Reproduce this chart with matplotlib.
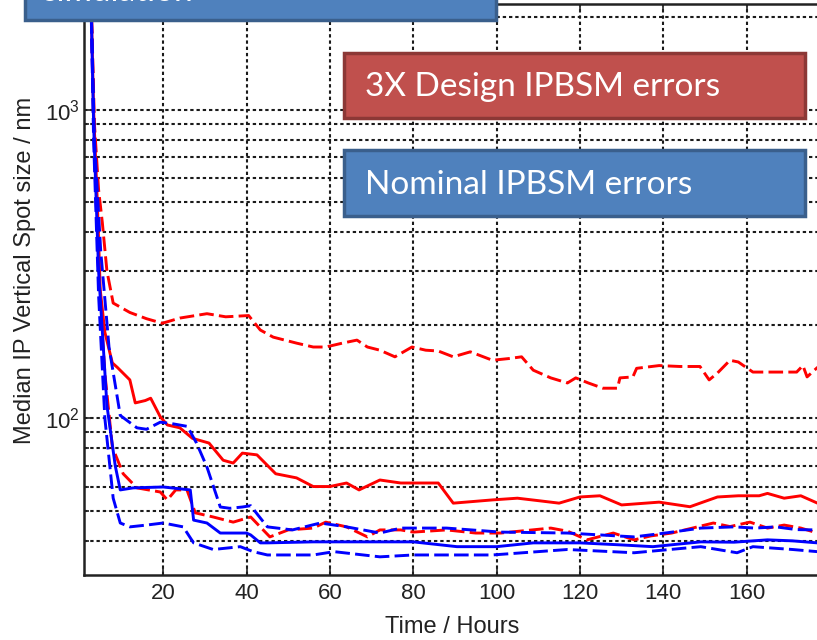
import matplotlib
matplotlib.use("Agg")
import matplotlib.pyplot as plt
from matplotlib.patches import Rectangle
from matplotlib.ticker import LogLocator, NullFormatter

plt.rcParams['font.family'] = ['Liberation Sans', 'DejaVu Sans']

# median spot size vs. time, 3x design IPBSM errors (red) and nominal errors (blue)
red_hi_t = [2.5, 3.5, 4.5, 5.4, 6.5, 8, 12, 16, 19.8, 24, 30.5, 35, 40.5, 43.3, 46.4, 52, 56, 59, 63,
            66.5, 69, 72, 75.6, 79.7, 83, 86, 89.6, 93.7, 99, 103, 106, 108.8, 113, 117, 119, 122,
            125.5, 129, 129.6, 132.7, 133.6, 139, 144, 148.8, 151, 153, 156, 158, 161.5, 166, 172,
            173.5, 174.5, 177, 180]
red_hi_v = [3000, 900, 550, 430, 300, 236, 220, 210, 203, 211, 218, 213, 215, 193, 183, 175, 170, 170, 175,
            179, 170, 166, 158, 170, 166, 165, 158, 164, 154, 156, 158, 143, 135, 130, 135, 130,
            125, 125, 135, 136, 145, 148, 147, 147, 133, 140, 154, 152, 141, 141, 141,
            148, 136, 146, 146]

red_med_t = [2.5, 3.3, 4.2, 4.9, 6, 7.8, 9, 12, 13.3, 15.7, 17, 19.3, 21, 24, 27, 31, 34.4, 36.8, 39,
             42.5, 47, 52, 56, 60, 64, 67, 72, 77, 86, 89.6, 99, 105, 110, 115, 120, 124.8, 130, 139,
             146.4, 153, 158, 163, 165, 169, 173, 177, 180]
red_med_v = [3000, 1000, 500, 260, 190, 151, 146, 133, 112, 114, 116, 101, 95, 93, 86, 83, 73, 71.5, 77,
             76, 66, 64, 60, 60, 61.6, 58.5, 63, 61.6, 61.6, 53, 54.3, 55, 54, 53, 55.5, 56, 52.3, 53.4,
             51.6, 55.5, 56, 56, 57, 55, 56, 53, 53]

red_lo_t = [2.5, 3.3, 4.5, 6, 7.8, 10.4, 13.7, 19.3, 21, 23, 25.7, 27.7, 32, 36.8, 41, 45.6, 50, 56, 59,
            64, 69, 72, 77, 80, 88, 95, 101, 113, 117, 121.7, 128, 133, 137, 142, 147, 152, 156, 160.8,
            165, 169, 173, 177, 180]
red_lo_v = [3000, 900, 300, 140, 80.6, 66, 59.4, 57.6, 54.3, 58.5, 58.5, 49.3, 47.8, 46, 47.8, 41.2, 43.4,
            44, 46, 44.4, 41.2, 43.4, 43.4, 42.7, 43.4, 42.4, 42.4, 44, 43, 40.3, 42.4, 40.3, 41.5, 42.4,
            44, 45.7, 44.5, 46, 44, 45, 44, 42.4, 42.4]

blue_hi_t = [2.5, 3.5, 5, 7, 9.7, 13.7, 16, 19.3, 22, 25.8, 28, 30.5, 33.7, 36, 39, 41, 43, 45, 51, 57.7,
             64, 72, 77, 88, 101, 117, 133, 141, 149, 157, 162, 167, 172, 177, 180]
blue_hi_v = [3000, 800, 350, 170, 102, 93, 92, 97, 96, 94, 83, 69.4, 51.5, 51, 51.5, 52, 48, 44.4, 43.4,
             45.7, 44.4, 42.4, 44, 44, 42.7, 42.4, 41.2, 42.5, 44, 44.4, 44, 44.4, 43.5, 43.4, 43.4]

blue_med_t = [2.5, 3.3, 4.5, 6.5, 8.5, 9.7, 12.8, 20, 26.5, 27.3, 30.5, 33.7, 40, 41, 43.3, 45, 56, 80,
              90.5, 100, 108.8, 120, 130, 137.5, 149, 157, 165, 171, 177, 180]
blue_med_v = [3000, 900, 300, 110, 70, 58.5, 59.4, 59.8, 58.5, 46.7, 45.7, 42.4, 42.4, 41.8, 39.4, 39.4,
              39.7, 39.7, 38.3, 38.3, 39.4, 39.4, 38.8, 38.3, 39.7, 39.6, 40.3, 40, 39.4, 39.4]

blue_lo_t = [2.5, 3.3, 4.5, 6, 8, 9.7, 12, 16, 20, 24.8, 27.3, 32, 38.5, 41.6, 45, 56, 61, 72, 80, 99,
             117, 133, 149, 157.7, 161.5, 171, 177, 180]
blue_lo_v = [3000, 800, 250, 100, 55, 45.7, 44.4, 45, 45.7, 44.4, 39.4, 37.5, 38.3, 36.9, 36, 36, 36.9,
             35.5, 36, 36, 37.5, 36.6, 38.3, 36.6, 38.3, 37.5, 36.9, 36.9]

xticks = [20, 40, 60, 80, 100, 120, 140, 160, 180]
xticklabels = ['20', '40', '60', '80', '100', '120', '140', '160', '']

W, H = 817, 640
fig = plt.figure(figsize=(W / 100, H / 100), dpi=100)


def px(x0, y0, x1, y1):
    # pixel box (top-left origin) -> figure fraction rect
    return [x0 / W, 1 - y1 / H, (x1 - x0) / W, (y1 - y0) / H]


ax = fig.add_axes(px(84, 4, 830, 575))
ax.set_yscale('log')

lw = 2.1
dash = (0, (5, 1.8))
ax.plot(red_hi_t, red_hi_v, color='#ff0000', lw=lw, linestyle=dash)
ax.plot(red_med_t, red_med_v, color='#ff0000', lw=lw)
ax.plot(red_lo_t, red_lo_v, color='#ff0000', lw=lw, linestyle=dash)
ax.plot(blue_hi_t, blue_hi_v, color='#0000ff', lw=lw, linestyle=dash)
ax.plot(blue_med_t, blue_med_v, color='#0000ff', lw=lw)
ax.plot(blue_lo_t, blue_lo_v, color='#0000ff', lw=lw, linestyle=dash)

ax.set_xlim(1, 180)
ax.set_ylim(31, 2200)
ax.set_xticks(xticks)
ax.set_xticklabels(xticklabels)
ax.yaxis.set_major_locator(LogLocator(base=10))
ax.yaxis.set_minor_locator(LogLocator(base=10, subs=range(2, 10)))
ax.yaxis.set_minor_formatter(NullFormatter())

grid_kw = dict(color='#1a1a1a', linestyle=(0, (1.6, 1.4)), linewidth=1.5)
ax.grid(True, which='major', axis='both', **grid_kw)
ax.grid(True, which='minor', axis='y', **grid_kw)

ax.tick_params(which='both', direction='in', top=True, right=True, width=1.2, labelsize=16,
               colors='#222222')
ax.tick_params(which='major', length=6)
ax.tick_params(which='minor', length=3.5)
ax.tick_params(axis='x', pad=6)
ax.tick_params(axis='y', pad=3)
for s in ax.spines.values():
    s.set_linewidth(1.8)
    s.set_color('#222222')

fig.text(452 / W, 1 - 627 / H, 'Time / Hours', ha='center', va='center', fontsize=17, color='#222222')
fig.text(25 / W, 1 - 270 / H, 'Median IP Vertical Spot size / nm', ha='center', va='center',
         rotation=90, fontsize=17, color='#222222')

# slide callouts
box_font = ['Lato', 'DejaVu Sans']
t = px(25, -40, 496, 20)
fig.add_artist(Rectangle(t[:2], t[2], t[3], transform=fig.transFigure, facecolor='#4f81bd',
                         edgecolor='#3a5f8c', linewidth=2.5, zorder=5))
fig.text(43 / W, 1 - 1 / H, 'simulation', ha='left', va='baseline', fontsize=24, color='white',
         family=box_font, zorder=6)

r = px(344, 53, 805, 118)
fig.add_artist(Rectangle(r[:2], r[2], r[3], transform=fig.transFigure, facecolor='#c0504d',
                         edgecolor='#8c3836', linewidth=2.5, zorder=5))
fig.text(365 / W, 1 - 87 / H, '3X Design IPBSM errors', ha='left', va='center', fontsize=24,
         color='white', family=box_font, zorder=6)

b = px(344, 150, 805, 216)
fig.add_artist(Rectangle(b[:2], b[2], b[3], transform=fig.transFigure, facecolor='#4f81bd',
                         edgecolor='#3a5f8c', linewidth=2.5, zorder=5))
fig.text(365 / W, 1 - 185 / H, 'Nominal IPBSM errors', ha='left', va='center', fontsize=24,
         color='white', family=box_font, zorder=6)

fig.savefig('out.png', dpi=100)
